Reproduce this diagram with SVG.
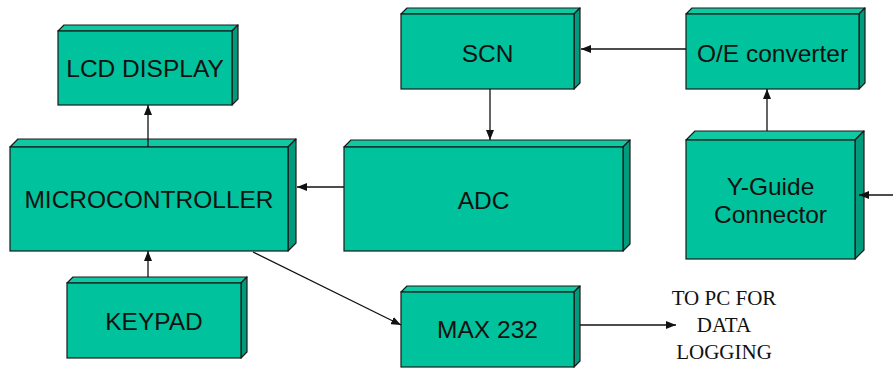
<svg xmlns="http://www.w3.org/2000/svg" width="893" height="368" viewBox="0 0 893 368">
<style>
.front{fill:#00C29C;stroke:#1a1a1a;stroke-width:1.2}
.top{fill:#10C8A2;stroke:#1a1a1a;stroke-width:1.2;stroke-linejoin:round}
.side{fill:#009B7C;stroke:#1a1a1a;stroke-width:1.2;stroke-linejoin:round}
.lbl{font-family:"Liberation Sans",Arial,sans-serif;font-size:24.5px;fill:#111;text-anchor:middle}
.note{font-family:"Liberation Serif","Times New Roman",serif;font-size:21px;fill:#111;text-anchor:middle}
.conn line{stroke:#111;stroke-width:1.3;marker-end:url(#ah)}
</style>
<defs>
<marker id="ah" markerUnits="userSpaceOnUse" markerWidth="10" markerHeight="8" refX="10" refY="4" orient="auto">
<path d="M0,0 L10,4 L0,8 z" fill="#111"/>
</marker>
</defs>
<rect width="893" height="368" fill="#fff"/>

<g id="lcd">
<polygon class="top" points="58,31 64,25 238,25 232,31"/>
<polygon class="side" points="232,31 238,25 238,99 232,105"/>
<rect class="front" x="58" y="31" width="174" height="74"/>
<text class="lbl" x="145" y="77">LCD DISPLAY</text>
</g>

<g id="mcu">
<polygon class="top" points="10,147 18,139 296,139 288,147"/>
<polygon class="side" points="288,147 296,139 296,243 288,251"/>
<rect class="front" x="10" y="147" width="278" height="104"/>
<text class="lbl" x="149" y="208">MICROCONTROLLER</text>
</g>

<g id="scn">
<polygon class="top" points="401,14 407,8 580,8 574,14"/>
<polygon class="side" points="574,14 580,8 580,83 574,89"/>
<rect class="front" x="401" y="14" width="173" height="75"/>
<text class="lbl" x="487.5" y="62">SCN</text>
</g>

<g id="oe">
<polygon class="top" points="686,14 692,8 865,8 859,14"/>
<polygon class="side" points="859,14 865,8 865,83 859,89"/>
<rect class="front" x="686" y="14" width="173" height="75"/>
<text class="lbl" x="772.5" y="62">O/E converter</text>
</g>

<g id="adc">
<polygon class="top" points="344,147 351,140 630,140 623,147"/>
<polygon class="side" points="623,147 630,140 630,244 623,251"/>
<rect class="front" x="344" y="147" width="279" height="104"/>
<text class="lbl" x="483.5" y="209">ADC</text>
</g>

<g id="yguide">
<polygon class="top" points="686,140 695,131 864,131 855,140"/>
<polygon class="side" points="855,140 864,131 864,250 855,259"/>
<rect class="front" x="686" y="140" width="169" height="119"/>
<text class="lbl" x="770.5" y="195">Y-Guide</text>
<text class="lbl" x="770.5" y="223">Connector</text>
</g>

<g id="keypad">
<polygon class="top" points="67,283 73,277 247,277 241,283"/>
<polygon class="side" points="241,283 247,277 247,352 241,358"/>
<rect class="front" x="67" y="283" width="174" height="75"/>
<text class="lbl" x="154" y="330">KEYPAD</text>
</g>

<g id="max232">
<polygon class="top" points="401,292 407,286 580,286 574,292"/>
<polygon class="side" points="574,292 580,286 580,361 574,367"/>
<rect class="front" x="401" y="292" width="173" height="75"/>
<text class="lbl" x="487.5" y="338">MAX 232</text>
</g>

<g id="pc-note">
<text class="note" x="724" y="305">TO PC FOR</text>
<text class="note" x="724" y="332">DATA</text>
<text class="note" x="724" y="359">LOGGING</text>
</g>

<g id="connectors" class="conn">
<line x1="148" y1="147" x2="148" y2="105"/>
<line x1="148" y1="277" x2="148" y2="251"/>
<line x1="344" y1="187" x2="297" y2="187"/>
<line x1="490" y1="89" x2="490" y2="140"/>
<line x1="686" y1="49" x2="581" y2="49"/>
<line x1="767" y1="131" x2="767" y2="89"/>
<line x1="893" y1="195" x2="859" y2="195"/>
<line x1="253" y1="252" x2="401" y2="325"/>
<line x1="580" y1="325" x2="676" y2="325"/>
</g>
</svg>
